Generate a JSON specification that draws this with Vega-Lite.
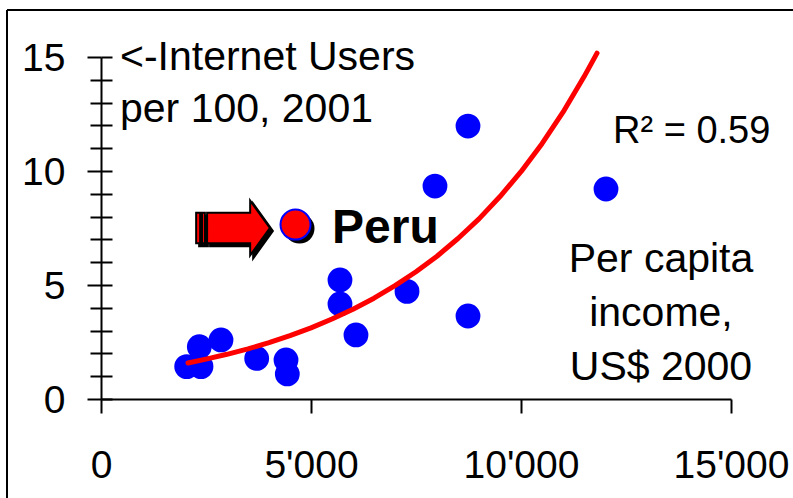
{
  "$schema": "https://vega.github.io/schema/vega-lite/v6.json",
  "width": 786,
  "height": 488,
  "autosize": "none",
  "padding": {"left": 7, "top": 10, "right": 0, "bottom": 0},
  "background": "white",
  "config": {
    "view": {"stroke": "black", "strokeWidth": 2, "strokeDash": [786, 1274, 488, 0]},
    "font": "Liberation Sans"
  },
  "datasets": {
    "countries": [
      {"name": "", "income": 2040, "users": 1.42},
      {"name": "", "income": 2381, "users": 1.42},
      {"name": "", "income": 2341, "users": 2.29},
      {"name": "", "income": 2857, "users": 2.59},
      {"name": "", "income": 3707, "users": 1.78},
      {"name": "", "income": 4405, "users": 1.71},
      {"name": "", "income": 4436, "users": 1.1},
      {"name": "", "income": 5690, "users": 5.22},
      {"name": "", "income": 5690, "users": 4.17},
      {"name": "", "income": 6071, "users": 2.81},
      {"name": "", "income": 7286, "users": 4.72},
      {"name": "", "income": 8738, "users": 3.64},
      {"name": "", "income": 7952, "users": 9.34},
      {"name": "", "income": 8738, "users": 11.97},
      {"name": "", "income": 12024, "users": 9.21},
      {"name": "Peru", "income": 4631, "users": 7.65}
    ],
    "curve": [
      {"income": 2071, "users": 1.58},
      {"income": 2500, "users": 1.75},
      {"income": 3000, "users": 1.96},
      {"income": 3500, "users": 2.2},
      {"income": 4000, "users": 2.47},
      {"income": 4500, "users": 2.78},
      {"income": 5000, "users": 3.12},
      {"income": 5500, "users": 3.51},
      {"income": 6000, "users": 3.94},
      {"income": 6500, "users": 4.42},
      {"income": 7000, "users": 4.97},
      {"income": 7500, "users": 5.58},
      {"income": 8000, "users": 6.26},
      {"income": 8500, "users": 7.04},
      {"income": 9000, "users": 7.9},
      {"income": 9500, "users": 8.88},
      {"income": 10000, "users": 9.97},
      {"income": 10500, "users": 11.2},
      {"income": 11000, "users": 12.58},
      {"income": 11500, "users": 14.13},
      {"income": 11810, "users": 15.17}
    ],
    "notes": [
      {"label": "internet", "income": 452, "users": 14.43},
      {"label": "peru", "income": 5500, "users": 6.84},
      {"label": "r2", "income": 12190, "users": 11.23},
      {"label": "income", "income": 13333, "users": 5.57},
      {"label": "arrow", "income": 3143, "users": 7.5}
    ]
  },
  "layer": [
    {
      "data": {"name": "countries"},
      "transform": [{"filter": "datum.name != 'Peru'"}],
      "mark": {"type": "circle", "color": "#0000FF", "opacity": 1, "size": 616},
      "encoding": {
        "x": {
          "field": "income", "type": "quantitative",
          "scale": {"domain": [0, 15000], "range": [94, 724], "nice": false, "zero": false},
          "axis": {
            "orient": "bottom", "offset": -99, "values": [0, 5000, 10000, 15000],
            "labelExpr": "replace(format(datum.value, ','), ',', \"'\")",
            "tickSize": 14, "tickWidth": 2, "tickColor": "black",
            "domainColor": "black", "domainWidth": 2,
            "labelFontSize": 39, "labelColor": "black", "labelFont": "Liberation Sans",
            "labelPadding": 33, "labelFlush": false, "labelOverlap": false,
            "grid": false, "title": null
          }
        },
        "y": {
          "field": "users", "type": "quantitative",
          "scale": {"domain": [0, 15], "range": [389, 47], "nice": false, "zero": false},
          "axis": {
            "orient": "left", "offset": -94, "values": [0, 5, 10, 15],
            "tickSize": 14, "tickWidth": 2, "tickColor": "black",
            "domainColor": "black", "domainWidth": 2,
            "labelFontSize": 39, "labelColor": "black", "labelFont": "Liberation Sans",
            "labelPadding": 22, "labelBaseline": "middle", "labelOffset": 1,
            "labelFlush": false, "labelOverlap": false, "labelBound": false,
            "grid": false, "title": null
          }
        }
      }
    },
    {
      "data": {"name": "countries"},
      "transform": [{"filter": "datum.name == 'Peru'"}],
      "mark": {"type": "circle", "color": "black", "opacity": 1, "size": 900, "xOffset": 4, "yOffset": 4},
      "encoding": {
        "x": {"field": "income", "type": "quantitative", "axis": null},
        "y": {
          "field": "users", "type": "quantitative",
          "axis": {
            "orient": "left", "offset": -94, "values": [1, 2, 3, 4, 6, 7, 8, 9, 11, 12, 13, 14],
            "tickSize": 11, "tickWidth": 2, "tickColor": "black",
            "domain": false, "labels": false, "grid": false, "title": null
          }
        }
      }
    },
    {
      "data": {"name": "countries"},
      "transform": [{"filter": "datum.name == 'Peru'"}],
      "mark": {"type": "circle", "fill": "#FF0000", "stroke": "#0000FF", "strokeWidth": 2, "opacity": 1, "size": 900},
      "encoding": {
        "x": {"field": "income", "type": "quantitative", "axis": null},
        "y": {
          "field": "users", "type": "quantitative",
          "axis": {
            "orient": "left", "offset": -94, "values": [0, 1, 2, 3, 4, 5, 6, 7, 8, 9, 10, 11, 12, 13, 14, 15],
            "tickSize": -11, "tickWidth": 2, "tickColor": "black",
            "domain": false, "labels": false, "grid": false, "title": null
          }
        }
      }
    },
    {
      "data": {"name": "curve"},
      "mark": {"type": "line", "color": "#FF0000", "strokeWidth": 5, "strokeCap": "round", "strokeJoin": "round"},
      "encoding": {
        "x": {"field": "income", "type": "quantitative", "axis": null},
        "y": {"field": "users", "type": "quantitative", "axis": null}
      }
    },
    {
      "data": {"name": "notes"},
      "transform": [{"filter": "datum.label == 'arrow'"}],
      "mark": {
        "type": "point", "filled": true, "fill": "black", "stroke": "black", "strokeWidth": 2, "opacity": 1,
        "size": 5329, "xOffset": 3, "yOffset": 3,
        "shape": "M-1.01,-0.42L-0.9,-0.42L-0.9,0.42L-1.01,0.42Z M-0.85,-0.42L-0.77,-0.42L-0.77,0.42L-0.85,0.42Z M-0.71,-0.42L0.47,-0.42L0.47,-0.75L1.01,0L0.47,0.75L0.47,0.42L-0.71,0.42Z"
      },
      "encoding": {
        "x": {"field": "income", "type": "quantitative", "axis": null},
        "y": {"field": "users", "type": "quantitative", "axis": null}
      }
    },
    {
      "data": {"name": "notes"},
      "transform": [{"filter": "datum.label == 'arrow'"}],
      "mark": {
        "type": "point", "filled": true, "fill": "#FF0000", "stroke": "black", "strokeWidth": 2, "opacity": 1,
        "size": 5329,
        "shape": "M-1.01,-0.42L-0.9,-0.42L-0.9,0.42L-1.01,0.42Z M-0.85,-0.42L-0.77,-0.42L-0.77,0.42L-0.85,0.42Z M-0.71,-0.42L0.47,-0.42L0.47,-0.75L1.01,0L0.47,0.75L0.47,0.42L-0.71,0.42Z"
      },
      "encoding": {
        "x": {"field": "income", "type": "quantitative", "axis": null},
        "y": {"field": "users", "type": "quantitative", "axis": null}
      }
    },
    {
      "data": {"name": "notes"},
      "transform": [{"filter": "datum.label == 'internet'"}],
      "mark": {"type": "text", "align": "left", "baseline": "alphabetic", "fontSize": 41, "lineHeight": 52, "color": "black",
        "text": ["<-Internet Users", "per 100, 2001"]},
      "encoding": {
        "x": {"field": "income", "type": "quantitative", "axis": null},
        "y": {"field": "users", "type": "quantitative", "axis": null}
      }
    },
    {
      "data": {"name": "notes"},
      "transform": [{"filter": "datum.label == 'peru'"}],
      "mark": {"type": "text", "align": "left", "baseline": "alphabetic", "fontSize": 48, "fontWeight": "bold", "color": "black", "text": "Peru"},
      "encoding": {
        "x": {"field": "income", "type": "quantitative", "axis": null},
        "y": {"field": "users", "type": "quantitative", "axis": null}
      }
    },
    {
      "data": {"name": "notes"},
      "transform": [{"filter": "datum.label == 'r2'"}],
      "mark": {"type": "text", "align": "left", "baseline": "alphabetic", "fontSize": 38, "color": "black", "text": "R² = 0.59"},
      "encoding": {
        "x": {"field": "income", "type": "quantitative", "axis": null},
        "y": {"field": "users", "type": "quantitative", "axis": null}
      }
    },
    {
      "data": {"name": "notes"},
      "transform": [{"filter": "datum.label == 'income'"}],
      "mark": {"type": "text", "align": "center", "baseline": "alphabetic", "fontSize": 41, "lineHeight": 54, "color": "black",
        "text": ["Per capita", "income,", "US$ 2000"]},
      "encoding": {
        "x": {"field": "income", "type": "quantitative", "axis": null},
        "y": {"field": "users", "type": "quantitative", "axis": null}
      }
    }
  ],
  "resolve": {"axis": {"x": "independent", "y": "independent"}}
}
